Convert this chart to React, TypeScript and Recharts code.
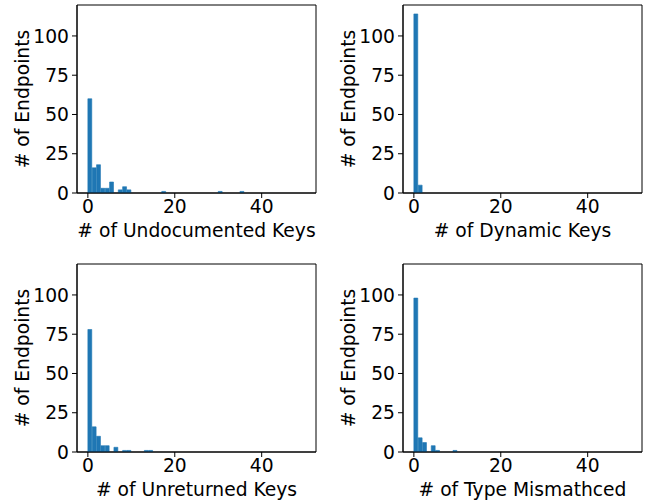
import React from "react";
import { Bar, BarChart, ReferenceArea, XAxis, YAxis } from "recharts";

// bin left edges 0..49, each bin is 1 wide
const binStarts = Array.from({ length: 50 }, (_, i) => i);

const undocumentedCounts = [
  60, 16, 18, 3, 3, 7, 0, 2, 4, 2,
  0, 0, 0, 0, 0, 0, 0, 1, 0, 0,
  0, 0, 0, 0, 0, 0, 0, 0, 0, 0,
  1, 0, 0, 0, 0, 1, 0, 0, 0, 0,
  0, 0, 0, 0, 0, 0, 0, 0, 0, 0,
];
const dynamicCounts = [
  114, 5, 0, 0, 0, 0, 0, 0, 0, 0,
  0, 0, 0, 0, 0, 0, 0, 0, 0, 0,
  0, 0, 0, 0, 0, 0, 0, 0, 0, 0,
  0, 0, 0, 0, 0, 0, 0, 0, 0, 0,
  0, 0, 0, 0, 0, 0, 0, 0, 0, 0,
];
const unreturnedCounts = [
  78, 16, 10, 4, 4, 0, 3, 0, 1, 1,
  0, 0, 0, 1, 1, 0, 0, 0, 0, 0,
  0, 0, 0, 0, 0, 0, 0, 0, 0, 0,
  0, 0, 0, 0, 0, 0, 0, 0, 0, 0,
  0, 0, 0, 0, 0, 0, 0, 0, 0, 0,
];
const mismatchCounts = [
  98, 9, 6, 0, 4, 1, 0, 0, 0, 1,
  0, 0, 0, 0, 0, 0, 0, 0, 0, 0,
  0, 0, 0, 0, 0, 0, 0, 0, 0, 0,
  0, 0, 0, 0, 0, 0, 0, 0, 0, 0,
  0, 0, 0, 0, 0, 0, 0, 0, 0, 0,
];

const xTicks = [0, 20, 40];
const yTicks = [0, 25, 50, 75, 100];
const yLabel = "# of Endpoints";

const X_DOMAIN: [number, number] = [-2.5, 52.5];
const Y_DOMAIN: [number, number] = [0, 119.7];

const FONT = "DejaVu Sans";
const FONT_SIZE = 18.7;
const BLUE = "#1f77b4";

const W = 326;
const H = 245;
const MARGIN = { top: 5, right: 10, left: 17, bottom: 7 };
const Y_AXIS_W = 60;
// recharts floors auto bar widths to whole pixels, which leaves seams
// between adjacent bins, so pass the exact width of one bin
const PLOT_W = W - MARGIN.left - MARGIN.right - Y_AXIS_W;
const BIN_PX = PLOT_W / (X_DOMAIN[1] - X_DOMAIN[0]);

function toBins(counts: number[]) {
  return binStarts.map((start, i) => ({ x: start + 0.5, count: counts[i] }));
}

function XLabel({ viewBox, text }: any) {
  if (!viewBox) return null;
  return (
    <text
      x={viewBox.x + viewBox.width / 2}
      y={viewBox.y + 44}
      textAnchor="middle"
      fontFamily={FONT}
      fontSize={FONT_SIZE}
      fill="#000"
    >
      {text}
    </text>
  );
}

function YLabel({ viewBox, text }: any) {
  if (!viewBox) return null;
  const x = viewBox.x + 12;
  const y = viewBox.y + viewBox.height / 2;
  return (
    <text
      x={x}
      y={y}
      transform={`rotate(-90, ${x}, ${y})`}
      textAnchor="middle"
      fontFamily={FONT}
      fontSize={FONT_SIZE}
      fill="#000"
    >
      {text}
    </text>
  );
}

function Hist({ counts, xLabel }: { counts: number[]; xLabel: string }) {
  const tick = { fill: "#000", fontSize: FONT_SIZE, fontFamily: FONT };
  return (
    <BarChart
      width={W}
      height={H}
      data={toBins(counts)}
      margin={MARGIN}
      barCategoryGap={0}
      barGap={0}
    >
      <XAxis
        dataKey="x"
        type="number"
        domain={X_DOMAIN}
        allowDataOverflow
        ticks={xTicks}
        height={45}
        tick={tick}
        tickSize={5}
        tickMargin={2}
        stroke="#000"
        tickLine={{ stroke: "#000" }}
        label={<XLabel text={xLabel} />}
      />
      <YAxis
        type="number"
        domain={Y_DOMAIN}
        allowDataOverflow
        ticks={yTicks}
        width={Y_AXIS_W}
        tick={tick}
        tickSize={5}
        tickMargin={3}
        stroke="#000"
        tickLine={{ stroke: "#000" }}
        label={<YLabel text={yLabel} />}
      />
      {/* thin same-colour stroke hides antialiasing seams between bins */}
      <Bar
        dataKey="count"
        fill={BLUE}
        stroke={BLUE}
        strokeWidth={0.6}
        barSize={BIN_PX}
        isAnimationActive={false}
      />
      <ReferenceArea
        x1={X_DOMAIN[0]}
        x2={X_DOMAIN[1]}
        y1={Y_DOMAIN[0]}
        y2={Y_DOMAIN[1]}
        fill="none"
        fillOpacity={0}
        stroke="#000"
        strokeWidth={1}
        strokeOpacity={1}
      />
    </BarChart>
  );
}

export default function App() {
  return (
    <div
      style={{
        position: "absolute",
        left: 0,
        top: 0,
        width: 651,
        height: 504,
        background: "#fff",
      }}
    >
      <div style={{ position: "absolute", left: 0, top: 0 }}>
        <Hist counts={undocumentedCounts} xLabel="# of Undocumented Keys" />
      </div>
      <div style={{ position: "absolute", left: 326, top: 0 }}>
        <Hist counts={dynamicCounts} xLabel="# of Dynamic Keys" />
      </div>
      <div style={{ position: "absolute", left: 0, top: 259 }}>
        <Hist counts={unreturnedCounts} xLabel="# of Unreturned Keys" />
      </div>
      <div style={{ position: "absolute", left: 326, top: 259 }}>
        <Hist counts={mismatchCounts} xLabel="# of Type Mismathced" />
      </div>
    </div>
  );
}
